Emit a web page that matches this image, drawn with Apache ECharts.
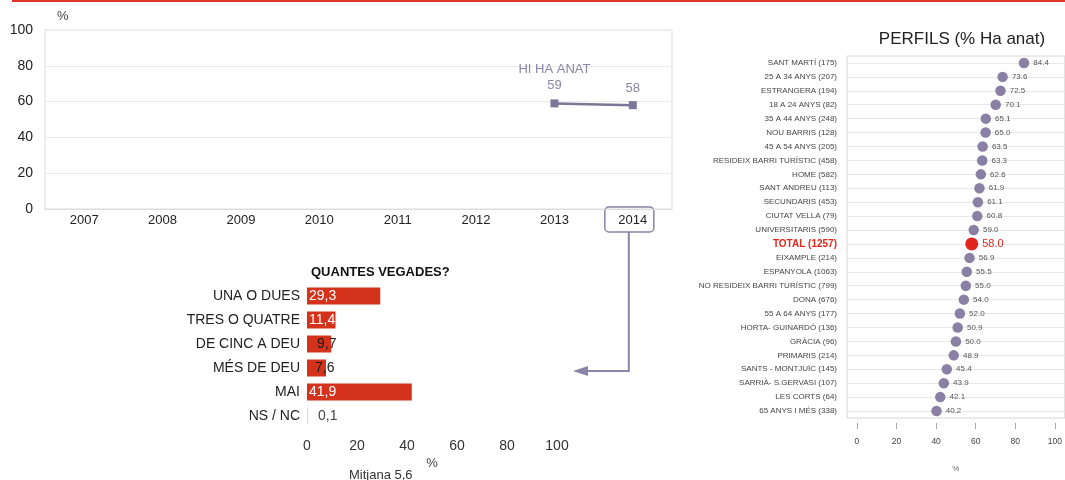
<!DOCTYPE html>
<html>
<head>
<meta charset="utf-8">
<script src="https://cdn.jsdelivr.net/npm/echarts@6/dist/echarts.min.js"></script>
<style>
  html, body { margin: 0; padding: 0; background: #fff; }
  #chart { width: 1065px; height: 480px; }
</style>
</head>
<body>
<div id="chart"></div>
<script>
// Evolució anual: % que hi ha anat
const years = ['2007', '2008', '2009', '2010', '2011', '2012', '2013', '2014'];
const haAnat = [null, null, null, null, null, null, 59, 58];
const seriesName = 'HI HA ANAT';

// Quantes vegades?
const freqCats = ['UNA O DUES', 'TRES O QUATRE', 'DE CINC A DEU', 'MÉS DE DEU', 'MAI', 'NS / NC'];
const freqValues = [29.3, 11.4, 9.7, 7.6, 41.9, 0.1];
const mitjana = '5,6';

// Perfils (% Ha anat)
const profileCats = [
  'SANT MARTÍ (175)', '25 A 34 ANYS (207)', 'ESTRANGERA (194)', '18 A 24 ANYS (82)',
  '35 A 44 ANYS (248)', 'NOU BARRIS (128)', '45 A 54 ANYS (205)', 'RESIDEIX BARRI TURÍSTIC (458)',
  'HOME (582)', 'SANT ANDREU (113)', 'SECUNDARIS (453)', 'CIUTAT VELLA (79)',
  'UNIVERSITARIS (590)', 'TOTAL (1257)', 'EIXAMPLE (214)', 'ESPANYOLA (1063)',
  'NO RESIDEIX BARRI TURÍSTIC (799)', 'DONA (676)', '55 A 64 ANYS (177)', 'HORTA- GUINARDÓ (136)',
  'GRÀCIA (96)', 'PRIMARIS (214)', 'SANTS - MONTJUÏC (145)', 'SARRIÀ- S.GERVASI (107)',
  'LES CORTS (64)', '65 ANYS I MÉS (338)'
];
const profileValues = [
  84.4, 73.6, 72.5, 70.1, 65.1, 65.0, 63.5, 63.3, 62.6, 61.9, 61.1, 60.8, 59.0,
  58.0, 56.9, 55.5, 55.0, 54.0, 52.0, 50.9, 50.0, 48.9, 45.4, 43.9, 42.1, 40.2
];
const percentTicks = [0, 20, 40, 60, 80, 100];

const FONT = 'Liberation Sans, Arial, sans-serif';
const PURPLE = '#7c7698';
const DOT = '#8a80a6';
const RED = '#d5321b';
const TOTAL_RED = '#e2261b';

const chart = echarts.init(document.getElementById('chart'), null, { renderer: 'canvas' });

const firstIdx = haAnat.findIndex(v => v != null);
const lineData = haAnat.map((v, i) => i === firstIdx
  ? { value: v, label: { formatter: '{n|' + seriesName + '}\n{v|{c}}' } }
  : v);

// small bars carry a dark label placed just past the bar start
const barData = freqValues.map(v => {
  const txt = v.toFixed(1).replace('.', ',');
  if (v >= 11) {
    return { value: v, label: { position: [2, '50%'], align: 'left', verticalAlign: 'middle', color: '#fff', formatter: txt } };
  }
  const tiny = v < 1;
  return { value: v, label: { position: [tiny ? 11 : (v > 9 ? 10 : 8), '50%'], align: 'left', verticalAlign: 'middle', color: tiny ? '#444' : '#1a1a1a', formatter: txt } };
});

const totalIdx = profileCats.findIndex(c => c.startsWith('TOTAL'));
const dotData = profileValues.map((v, i) => i === totalIdx
  ? { value: v, symbolSize: 13, itemStyle: { color: TOTAL_RED }, label: { color: TOTAL_RED, fontSize: 11 } }
  : v);

const option = {
  animation: false,
  textStyle: { fontFamily: FONT },
  title: [
    { text: 'QUANTES VEGADES?', left: 306, top: 261, textStyle: { fontFamily: FONT, fontSize: 13, fontWeight: 'bold', color: '#111' } },
    { text: 'PERFILS (% Ha anat)', left: 957, textAlign: 'center', top: 26, textStyle: { fontFamily: FONT, fontSize: 17, fontWeight: 'normal', color: '#222' } },
    { text: 'Mitjana ' + mitjana, left: 344, top: 464, textStyle: { fontFamily: FONT, fontSize: 13, fontWeight: 'normal', color: '#333' } }
  ],
  grid: [
    { left: 45, top: 30, width: 627, height: 179, show: true, borderColor: '#dddddd', borderWidth: 1 },
    { left: 307, top: 284, width: 250, height: 144 },
    { left: 847, top: 56, width: 220, height: 362, show: true, borderColor: '#d6d6d6', borderWidth: 1 }
  ],
  xAxis: [
    {
      gridIndex: 0, type: 'category', data: years, boundaryGap: true,
      axisLine: { lineStyle: { color: '#dddddd' } }, axisTick: { show: false },
      axisLabel: { fontSize: 13, color: '#222', margin: 5 }
    },
    {
      gridIndex: 1, type: 'value', min: 0, max: 100, interval: 20,
      axisLine: { show: false }, axisTick: { show: false }, splitLine: { show: false },
      axisLabel: { fontSize: 14, color: '#333', margin: 11 },
      name: '%', nameLocation: 'middle', nameGap: 29, nameTextStyle: { fontSize: 13, color: '#444' }
    },
    {
      gridIndex: 2, type: 'value', min: -5, max: 105, offset: 5,
      axisLine: { show: false },
      axisTick: { show: true, length: 6, customValues: percentTicks, lineStyle: { color: '#aaaaaa' } },
      axisLabel: { fontSize: 8.5, color: '#444', margin: 14, customValues: percentTicks },
      splitLine: { show: false },
      name: '%', nameLocation: 'middle', nameGap: 42, nameTextStyle: { fontSize: 8, color: '#666' }
    }
  ],
  yAxis: [
    {
      gridIndex: 0, type: 'value', min: 0, max: 100, interval: 20,
      axisLine: { show: false }, axisTick: { show: false },
      axisLabel: { fontSize: 14, color: '#222', margin: 12 },
      splitLine: { lineStyle: { color: '#ebebeb' } },
      name: '%', nameGap: 7, nameTextStyle: { fontSize: 13, color: '#444', align: 'left', padding: [0, 0, 0, 12] }
    },
    {
      gridIndex: 1, type: 'category', data: freqCats, inverse: true,
      axisLine: { show: false }, axisTick: { show: false },
      axisLabel: { fontSize: 14, color: '#222', margin: 7 }
    },
    {
      gridIndex: 2, type: 'category', data: profileCats, inverse: true,
      axisLine: { show: false }, axisTick: { show: false }, splitLine: { show: false },
      axisLabel: {
        fontSize: 8, color: '#444', margin: 10,
        formatter: v => v.startsWith('TOTAL') ? '{t|' + v + '}' : v,
        rich: { t: { fontSize: 10, fontWeight: 'bold', color: TOTAL_RED, fontFamily: FONT } }
      }
    }
  ],
  series: [
    {
      name: seriesName, type: 'line', xAxisIndex: 0, yAxisIndex: 0,
      data: lineData, symbol: 'rect', symbolSize: 8,
      lineStyle: { width: 2.5, color: PURPLE }, itemStyle: { color: PURPLE },
      label: {
        show: true, position: 'top', distance: 6, fontSize: 13, color: '#8a84a6',
        rich: {
          n: { fontSize: 13, color: '#8a84a6', lineHeight: 17, fontFamily: FONT },
          v: { fontSize: 13, color: '#8a84a6', lineHeight: 15, fontFamily: FONT }
        }
      }
    },
    {
      type: 'bar', xAxisIndex: 1, yAxisIndex: 1,
      data: barData, barWidth: 17, itemStyle: { color: RED },
      label: { show: true, fontSize: 14 }
    },
    {
      // row guide lines behind the dots
      type: 'line', xAxisIndex: 2, yAxisIndex: 2, data: [], z: 1,
      markLine: {
        silent: true, z: 1, symbol: ['none', 'none'], label: { show: false },
        lineStyle: { color: '#e8e8e8', width: 1, type: 'solid' },
        data: profileCats.map(c => ({ yAxis: c }))
      }
    },
    {
      type: 'scatter', xAxisIndex: 2, yAxisIndex: 2, z: 6,
      data: dotData, symbolSize: 10.5, itemStyle: { color: DOT, opacity: 1 },
      label: {
        show: true, position: 'right', distance: 4, fontSize: 8, color: '#555',
        formatter: p => Number(p.value).toFixed(1)
      }
    }
  ]
};

chart.setOption(option);

// accent rule, highlighted year and the pointer to the frequency breakdown
const x2014 = chart.convertToPixel({ xAxisIndex: 0 }, years[years.length - 1]);
const ARROW = '#8a84a6';
chart.setOption({
  graphic: [
    { type: 'rect', shape: { x: 12, y: 0, width: 1053, height: 2 }, style: { fill: '#e03326' }, silent: true },
    { type: 'rect', shape: { x: x2014 - 28, y: 207, width: 49, height: 25, r: 4 }, style: { fill: 'none', stroke: ARROW, lineWidth: 1.5 }, silent: true },
    { type: 'polyline', shape: { points: [[x2014 - 4, 232], [x2014 - 4, 371], [584, 371]] }, style: { stroke: ARROW, lineWidth: 2, fill: null }, silent: true },
    { type: 'polygon', shape: { points: [[573, 371], [588, 366], [588, 376]] }, style: { fill: ARROW }, silent: true }
  ]
});
</script>
</body>
</html>
